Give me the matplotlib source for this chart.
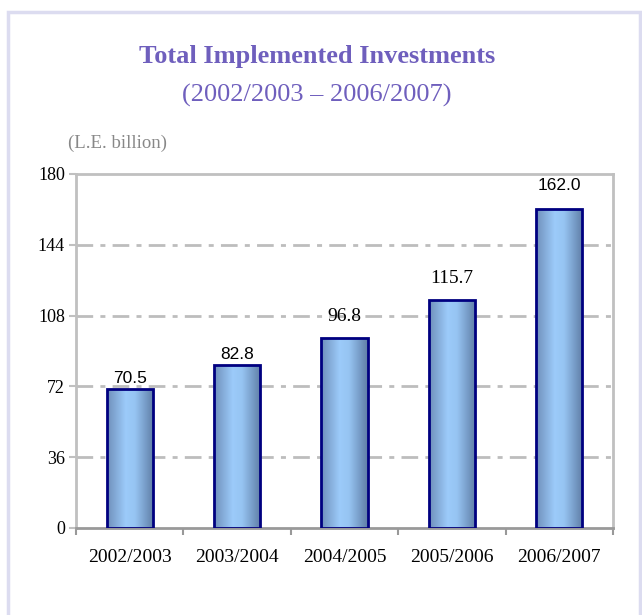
import numpy as np
import matplotlib
matplotlib.use('Agg')
import matplotlib.pyplot as plt
from matplotlib.colors import LinearSegmentedColormap
from matplotlib.patches import Rectangle

# data
years = ['2002/2003', '2003/2004', '2004/2005', '2005/2006', '2006/2007']
investments = [70.5, 82.8, 96.8, 115.7, 162.0]
value_labels = ['70.5', '82.8', '96.8', '115.7', '162.0']
yticks = [0, 36, 72, 108, 144, 180]

# label look (mixed fonts as in the original)
label_fonts = ['Liberation Sans', 'Liberation Sans', 'Liberation Serif',
               'Liberation Serif', 'Liberation Sans']
label_sizes = [12.5, 12.5, 14, 14, 12.5]
label_offsets = [8, 8, 15, 16, 17]

serif = 'Liberation Serif'
purple = '#6f5fbd'

fig = plt.figure(figsize=(6.42, 6.15), dpi=100)
fig.patch.set_facecolor('white')

# lavender frame around the whole chart
fig.patches.append(Rectangle((8 / 642, -0.01), 632 / 642, 1 - 12 / 615 + 0.01,
                             transform=fig.transFigure, fill=False,
                             edgecolor='#dcdcf0', linewidth=2.5))

ax = fig.add_axes([76 / 642, 87 / 615, 537 / 642, 354 / 615])

x = np.arange(len(years))
bars = ax.bar(x, investments, width=0.43, facecolor='none',
              edgecolor='#000080', linewidth=2, zorder=3)

# horizontal gradient inside each bar
cmap = LinearSegmentedColormap.from_list(
    'bar', [(0, '#6f8fba'), (0.4, '#9ccbfa'), (0.6, '#96c4f2'), (1, '#5f7da6')])
grad = np.linspace(0, 1, 256).reshape(1, -1)
for b in bars:
    bx, by = b.get_x(), b.get_y()
    im = ax.imshow(grad, cmap=cmap, aspect='auto', zorder=2,
                   extent=[bx, bx + b.get_width(), by, by + b.get_height()])
    im.set_clip_path(b)

for i, b in enumerate(bars):
    ax.annotate(value_labels[i], (b.get_x() + b.get_width() / 2, b.get_height()),
                xytext=(0, label_offsets[i]), textcoords='offset points',
                ha='center', va='center', fontsize=label_sizes[i],
                family=label_fonts[i], color='black', zorder=4)

ax.set_xlim(-0.5, len(years) - 0.5)
ax.set_ylim(0, 180)
ax.set_yticks(yticks)
ax.set_yticklabels([str(t) for t in yticks], family=serif, fontsize=13)
ax.set_xticks(x)
ax.set_xticklabels(years, family=serif, fontsize=14)
ax.set_xticks(np.arange(-0.5, len(years)), minor=True)
ax.tick_params(axis='x', which='major', length=0, pad=15)
ax.tick_params(axis='x', which='minor', length=5, width=1.5, color='#999999')
ax.tick_params(axis='y', length=5, width=1.5, color='#c0c0c0', pad=3)

for yv in yticks[1:-1]:
    ax.axhline(yv, color='#bdbdbd', linewidth=2,
               linestyle=(0, (6, 2.6, 1.8, 2.6)), zorder=1)

for side in ['left', 'right', 'top']:
    ax.spines[side].set_color('#c0c0c0')
    ax.spines[side].set_linewidth(2)
ax.spines['bottom'].set_color('#999999')
ax.spines['bottom'].set_linewidth(2)

fig.text(317 / 642, 1 - 57 / 615, 'Total Implemented Investments',
         ha='center', va='center', fontsize=19, fontweight='bold',
         family=serif, color=purple)
fig.text(317 / 642, 1 - 95 / 615, '(2002/2003 \u2013 2006/2007)',
         ha='center', va='center', fontsize=19, family=serif, color=purple)
fig.text(68 / 642, 1 - 143 / 615, '(L.E. billion)', ha='left', va='center',
         fontsize=13.5, family=serif, color='#888888')

fig.savefig('out.png', dpi=100)
